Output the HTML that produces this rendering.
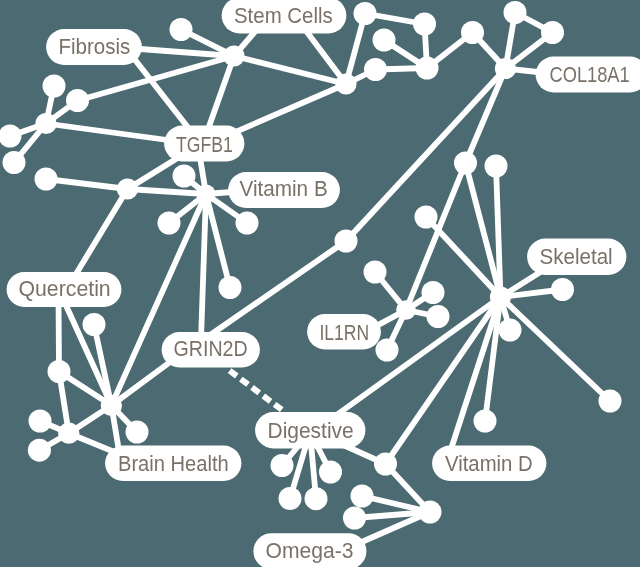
<!DOCTYPE html>
<html><head><meta charset="utf-8"><title>Network</title>
<style>
html,body{margin:0;padding:0;background:#4c6a71;}
body{width:640px;height:567px;overflow:hidden;}
svg{display:block;will-change:transform;}
text{font-family:"Liberation Sans",sans-serif;font-size:21.3px;fill:#7a7268;}
</style></head><body>
<svg width="640" height="567" viewBox="0 0 640 567">
<rect width="640" height="567" fill="#4c6a71"/>
<g stroke="#fff" stroke-width="5.8" stroke-linecap="round" fill="none">
<line x1="46" y1="123.5" x2="54" y2="86"/>
<line x1="46" y1="123.5" x2="77.5" y2="100.5"/>
<line x1="46" y1="123.5" x2="10" y2="136"/>
<line x1="46" y1="123.5" x2="14" y2="162.5"/>
<line x1="46" y1="123.5" x2="204" y2="145"/>
<line x1="77.5" y1="100.5" x2="234" y2="56"/>
<line x1="181" y1="29.5" x2="234" y2="56"/>
<line x1="120" y1="47.5" x2="234" y2="56"/>
<line x1="125" y1="47" x2="200.5" y2="143.5"/>
<line x1="234" y1="56" x2="203" y2="143.5"/>
<line x1="234" y1="56" x2="269" y2="15.5"/>
<line x1="294.5" y1="15.5" x2="346" y2="84"/>
<line x1="234" y1="56" x2="346" y2="84"/>
<line x1="346" y1="84" x2="204" y2="145.6"/>
<line x1="346" y1="84" x2="365" y2="13.5"/>
<line x1="346" y1="84" x2="375.5" y2="69.5"/>
<line x1="375.5" y1="69.5" x2="427" y2="68"/>
<line x1="384" y1="40" x2="427" y2="68"/>
<line x1="424.5" y1="24" x2="427" y2="68"/>
<line x1="365" y1="13.5" x2="424.5" y2="24"/>
<line x1="427" y1="68" x2="472.5" y2="32.5"/>
<line x1="472.5" y1="32.5" x2="505.5" y2="68.5"/>
<line x1="505.5" y1="68.5" x2="515" y2="12.5"/>
<line x1="505.5" y1="68.5" x2="552.5" y2="32.5"/>
<line x1="515" y1="12.5" x2="552.5" y2="32.5"/>
<line x1="505.5" y1="68.5" x2="560" y2="74.5"/>
<line x1="505.5" y1="68.5" x2="346" y2="241"/>
<line x1="346" y1="241" x2="203" y2="340"/>
<line x1="505.5" y1="68.5" x2="465.5" y2="163"/>
<line x1="465.5" y1="163" x2="406" y2="310"/>
<line x1="465.5" y1="163" x2="500.5" y2="297"/>
<line x1="496" y1="166" x2="500.5" y2="297"/>
<line x1="426" y1="217" x2="500.5" y2="297"/>
<line x1="406" y1="310" x2="375" y2="272"/>
<line x1="406" y1="310" x2="433" y2="292.5"/>
<line x1="406" y1="310" x2="438" y2="316.5"/>
<line x1="406" y1="310" x2="387" y2="350"/>
<line x1="406" y1="310" x2="370" y2="329.4"/>
<line x1="500.5" y1="297" x2="560" y2="259.8"/>
<line x1="500.5" y1="297" x2="562.5" y2="289.5"/>
<line x1="500.5" y1="297" x2="510" y2="330"/>
<line x1="500.5" y1="297" x2="610" y2="401"/>
<line x1="500.5" y1="297" x2="485" y2="421"/>
<line x1="500.5" y1="297" x2="446.5" y2="463"/>
<line x1="500.5" y1="297" x2="385.5" y2="464"/>
<line x1="500.5" y1="297" x2="315.7" y2="430"/>
<line x1="340" y1="443.5" x2="385.5" y2="464"/>
<line x1="310" y1="432" x2="282" y2="465.5"/>
<line x1="310" y1="432" x2="290" y2="498.5"/>
<line x1="310" y1="432" x2="316" y2="498.7"/>
<line x1="310" y1="432" x2="330.5" y2="472"/>
<line x1="385.5" y1="464" x2="430" y2="512"/>
<line x1="430" y1="512" x2="362" y2="496"/>
<line x1="430" y1="512" x2="354.5" y2="518"/>
<line x1="430" y1="512" x2="340" y2="551.5"/>
<line x1="206" y1="194" x2="198" y2="145"/>
<line x1="206" y1="194" x2="184" y2="176"/>
<line x1="206" y1="194" x2="169" y2="223"/>
<line x1="206" y1="194" x2="247" y2="223"/>
<line x1="206" y1="194" x2="230" y2="287.5"/>
<line x1="206" y1="194" x2="245" y2="191"/>
<line x1="206" y1="194" x2="201" y2="340"/>
<line x1="206" y1="194" x2="111.4" y2="405.4"/>
<line x1="127.5" y1="189" x2="206" y2="194"/>
<line x1="46" y1="179" x2="127.5" y2="189"/>
<line x1="201" y1="143.5" x2="127.5" y2="189"/>
<line x1="127.5" y1="189" x2="70" y2="284"/>
<line x1="111.4" y1="405.4" x2="185" y2="351"/>
<line x1="111.4" y1="405.4" x2="94" y2="324.5"/>
<line x1="111.4" y1="405.4" x2="59" y2="371.5"/>
<line x1="111.4" y1="405.4" x2="137" y2="432"/>
<line x1="111.4" y1="405.4" x2="68.8" y2="433.2"/>
<line x1="111.4" y1="405.4" x2="59" y2="290"/>
<line x1="58.5" y1="295" x2="59" y2="371.5"/>
<line x1="59" y1="371.5" x2="68.8" y2="433.2"/>
<line x1="68.8" y1="433.2" x2="40" y2="421"/>
<line x1="68.8" y1="433.2" x2="39.4" y2="450.2"/>
<line x1="68.8" y1="433.2" x2="130" y2="458.4"/>
<line x1="111.4" y1="405.4" x2="121" y2="463"/>
<line x1="229.6" y1="370.6" x2="282" y2="409.9" stroke-width="6" stroke-dasharray="9 5.05" stroke-linecap="butt"/>
</g>
<g fill="#fff">
<circle cx="54" cy="86" r="11.5"/>
<circle cx="77.5" cy="100.5" r="11.5"/>
<circle cx="46" cy="123.5" r="10.6"/>
<circle cx="10" cy="136" r="11.5"/>
<circle cx="14" cy="162.5" r="11.5"/>
<circle cx="46" cy="179" r="11.5"/>
<circle cx="127.5" cy="189" r="10.6"/>
<circle cx="181" cy="29.5" r="11.5"/>
<circle cx="234" cy="56" r="10.6"/>
<circle cx="346" cy="84" r="10.6"/>
<circle cx="365" cy="13.5" r="11.5"/>
<circle cx="384" cy="40" r="11.5"/>
<circle cx="375.5" cy="69.5" r="11.5"/>
<circle cx="424.5" cy="24" r="11.5"/>
<circle cx="427" cy="68" r="11.5"/>
<circle cx="472.5" cy="32.5" r="11.5"/>
<circle cx="515" cy="12.5" r="11.5"/>
<circle cx="552.5" cy="32.5" r="11.5"/>
<circle cx="505.5" cy="68.5" r="10.6"/>
<circle cx="184" cy="176" r="11.5"/>
<circle cx="206" cy="194" r="9.5"/>
<circle cx="169" cy="223" r="11.5"/>
<circle cx="247" cy="223" r="11.5"/>
<circle cx="230" cy="287.5" r="11.5"/>
<circle cx="346" cy="241" r="11.5"/>
<circle cx="375" cy="272" r="11.5"/>
<circle cx="465.5" cy="163" r="11.5"/>
<circle cx="496" cy="166" r="11.5"/>
<circle cx="426" cy="217" r="11.5"/>
<circle cx="406" cy="310" r="9.8"/>
<circle cx="433" cy="292.5" r="11.5"/>
<circle cx="438" cy="316.5" r="11.5"/>
<circle cx="387" cy="350" r="11.5"/>
<circle cx="500.5" cy="297" r="10.6"/>
<circle cx="562.5" cy="289.5" r="11.5"/>
<circle cx="510" cy="330" r="11.5"/>
<circle cx="94" cy="324.5" r="11.5"/>
<circle cx="59" cy="371.5" r="11.5"/>
<circle cx="111.4" cy="405.4" r="10.6"/>
<circle cx="68.8" cy="433.2" r="10.6"/>
<circle cx="40" cy="421" r="11.5"/>
<circle cx="39.4" cy="450.2" r="11.5"/>
<circle cx="137" cy="432" r="11.5"/>
<circle cx="282" cy="465.5" r="11.5"/>
<circle cx="290" cy="498.5" r="11.5"/>
<circle cx="316" cy="498.7" r="11.5"/>
<circle cx="330.5" cy="472" r="11.5"/>
<circle cx="385.5" cy="464" r="11.5"/>
<circle cx="362" cy="496" r="11.5"/>
<circle cx="354.5" cy="518" r="11.5"/>
<circle cx="430" cy="512" r="11.5"/>
<circle cx="485" cy="421" r="11.5"/>
<circle cx="610" cy="401" r="11.5"/>
</g>
<g opacity="0.999">
<rect x="46.1" y="29.1" width="95.8" height="35.8" rx="17.9" fill="#fff"/>
<text x="58.5" y="53.7" textLength="71.7" lengthAdjust="spacingAndGlyphs">Fibrosis</text>
<rect x="221.6" y="-2.4" width="124.8" height="35.8" rx="17.9" fill="#fff"/>
<text x="234" y="22.7" textLength="98.7" lengthAdjust="spacingAndGlyphs">Stem Cells</text>
<rect x="535.6" y="56.6" width="112.3" height="35.8" rx="17.9" fill="#fff"/>
<text x="549.5" y="81.7" textLength="80.2" lengthAdjust="spacingAndGlyphs">COL18A1</text>
<rect x="164.1" y="125.6" width="80.3" height="35.8" rx="17.9" fill="#fff"/>
<text x="176" y="151.7" textLength="56.7" lengthAdjust="spacingAndGlyphs">TGFB1</text>
<rect x="228.1" y="172.1" width="111.8" height="35.8" rx="17.9" fill="#fff"/>
<text x="239.5" y="196.2" textLength="88.2" lengthAdjust="spacingAndGlyphs">Vitamin B</text>
<rect x="527.1" y="238.6" width="99.3" height="36.3" rx="18.15" fill="#fff"/>
<text x="539.5" y="263.7" textLength="73.2" lengthAdjust="spacingAndGlyphs">Skeletal</text>
<rect x="6.6" y="272.1" width="114.8" height="34.8" rx="17.4" fill="#fff"/>
<text x="18.5" y="295.7" textLength="92.2" lengthAdjust="spacingAndGlyphs">Quercetin</text>
<rect x="307.1" y="314.1" width="73.8" height="35.3" rx="17.65" fill="#fff"/>
<text x="319.5" y="339.7" textLength="49.7" lengthAdjust="spacingAndGlyphs">IL1RN</text>
<rect x="161.6" y="332.1" width="98.3" height="35.3" rx="17.65" fill="#fff"/>
<text x="173.5" y="356.2" textLength="74.2" lengthAdjust="spacingAndGlyphs">GRIN2D</text>
<rect x="255.1" y="412.1" width="110.3" height="36.3" rx="18.15" fill="#fff"/>
<text x="267.5" y="437.7" textLength="86.2" lengthAdjust="spacingAndGlyphs">Digestive</text>
<rect x="105.1" y="445.6" width="136.3" height="35.3" rx="17.65" fill="#fff"/>
<text x="118" y="471.2" textLength="110.7" lengthAdjust="spacingAndGlyphs">Brain Health</text>
<rect x="432.1" y="445.6" width="114.3" height="35.3" rx="17.65" fill="#fff"/>
<text x="445" y="471.2" textLength="87.7" lengthAdjust="spacingAndGlyphs">Vitamin D</text>
<rect x="253.4" y="533.2" width="113" height="36.2" rx="18.1" fill="#fff"/>
<text x="265.5" y="557.9" textLength="88" lengthAdjust="spacingAndGlyphs">Omega-3</text>
</g>
</svg>
</body></html>
